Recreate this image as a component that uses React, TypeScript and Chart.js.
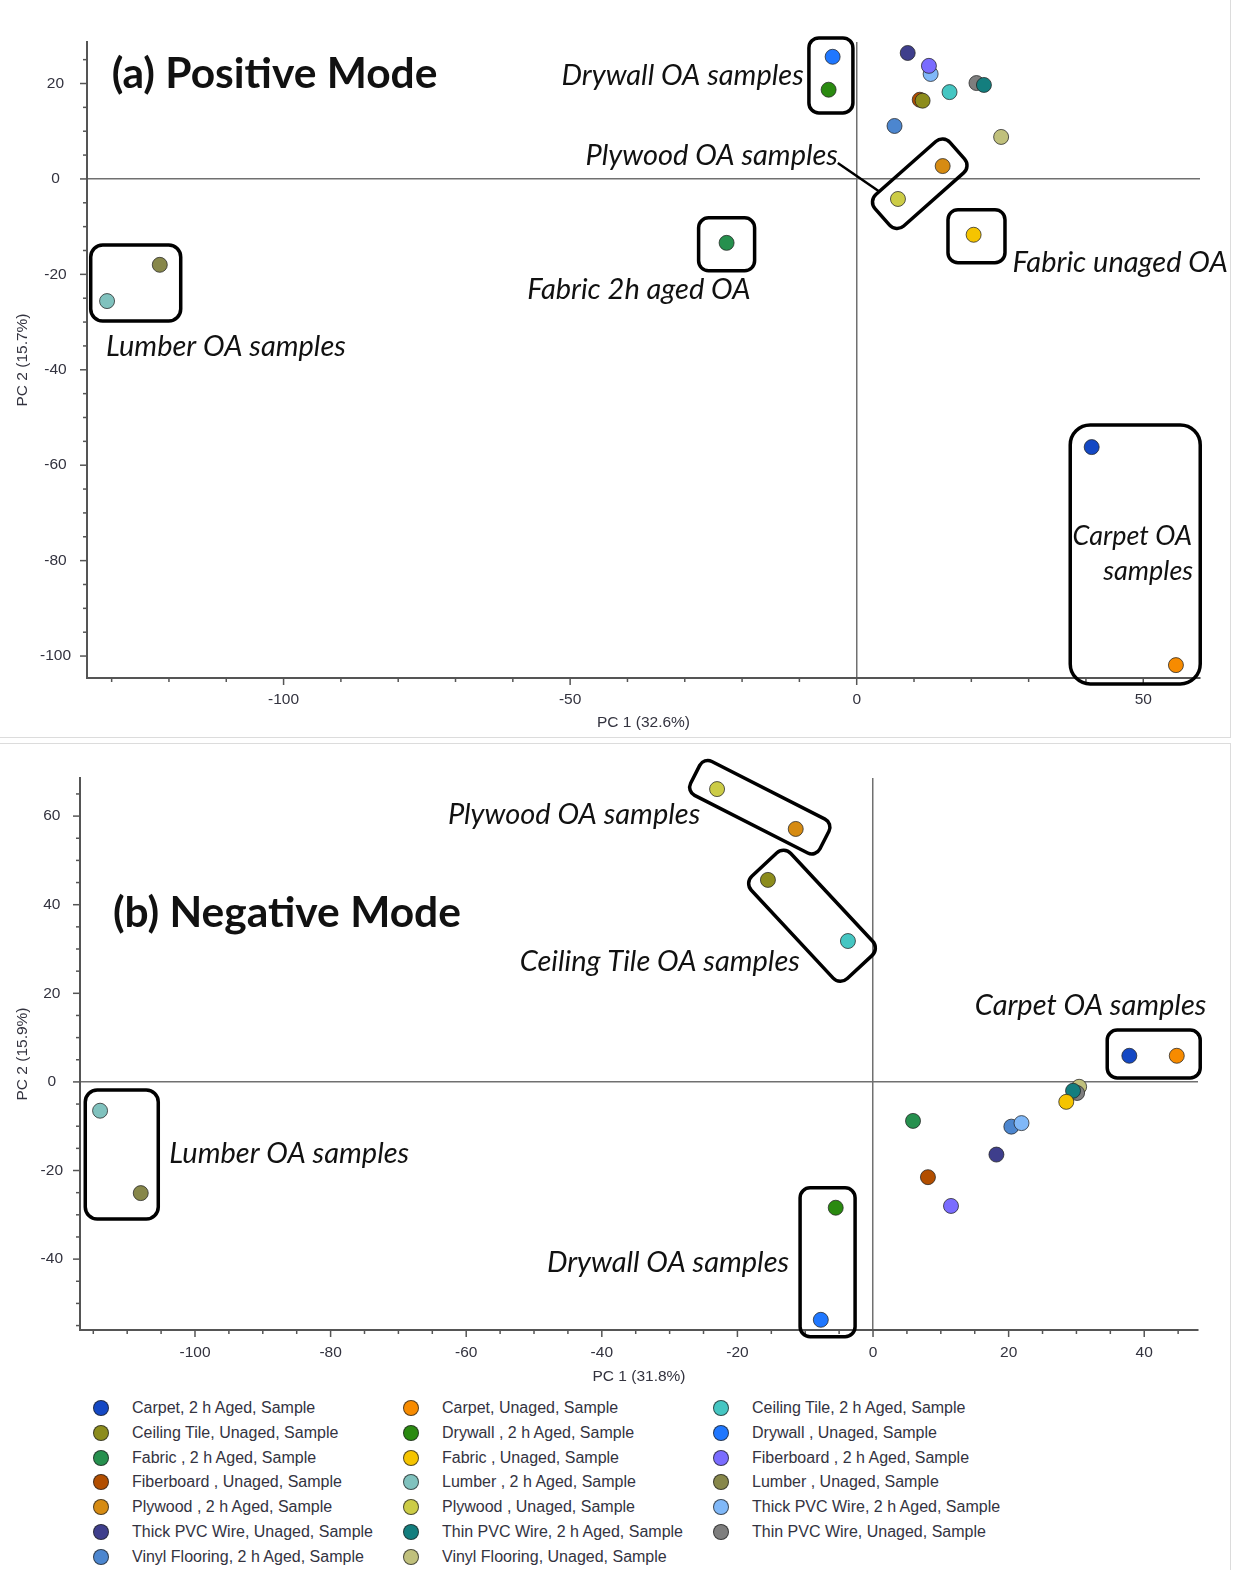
import React, { useEffect, useRef } from 'react';
import { Chart, registerables } from 'chart.js';

Chart.register(...registerables);

// ---------------- DATA ----------------
const sampleNames = [
  'Carpet, 2 h Aged, Sample',
  'Carpet, Unaged, Sample',
  'Ceiling Tile, 2 h Aged, Sample',
  'Ceiling Tile, Unaged, Sample',
  'Drywall , 2 h Aged, Sample',
  'Drywall , Unaged, Sample',
  'Fabric , 2 h Aged, Sample',
  'Fabric , Unaged, Sample',
  'Fiberboard , 2 h Aged, Sample',
  'Fiberboard , Unaged, Sample',
  'Lumber , 2 h Aged, Sample',
  'Lumber , Unaged, Sample',
  'Plywood , 2 h Aged, Sample',
  'Plywood , Unaged, Sample',
  'Thick PVC Wire, 2 h Aged, Sample',
  'Thick PVC Wire, Unaged, Sample',
  'Thin PVC Wire, 2 h Aged, Sample',
  'Thin PVC Wire, Unaged, Sample',
  'Vinyl Flooring, 2 h Aged, Sample',
  'Vinyl Flooring, Unaged, Sample',
];

const sampleColors = [
  '#1448c4', '#f78b00', '#45c6c2', '#8c8c1c', '#2a8a10',
  '#1f77ff', '#26904e', '#f5c400', '#7a6cff', '#b24e00',
  '#80c2be', '#87874a', '#d68b12', '#cccc46', '#80b8f8',
  '#3e3e8c', '#137e7e', '#7e7e7e', '#4c86cf', '#c0c07c',
];

// (a) Positive mode scores
const posPC1 = [41.0, 55.7, 16.2, 11.5, -4.9, -4.2, -22.7, 20.4, 12.6, 11.0, -130.8, -121.6, 15.0, 7.2, 12.9, 8.9, 22.2, 20.9, 6.6, 25.2];
const posPC2 = [-56.2, -101.9, 18.2, 16.4, 18.7, 25.6, -13.4, -11.7, 23.7, 16.6, -25.6, -18.0, 2.7, -4.2, 22.0, 26.4, 19.7, 20.1, 11.1, 8.8];

// (b) Negative mode scores
const negPC1 = [37.8, 44.8, -3.7, -15.5, -5.5, -7.7, 5.9, 28.5, 11.5, 8.1, -114.0, -108.0, -11.4, -23.0, 21.9, 18.2, 29.5, 30.1, 20.4, 30.4];
const negPC2 = [5.9, 5.9, 31.8, 45.6, -28.4, -53.7, -8.8, -4.5, -28.0, -21.5, -6.5, -25.1, 57.1, 66.1, -9.3, -16.4, -2.0, -2.5, -10.1, -1.1];

const posAxisTitles = ['PC 1 (32.6%)', 'PC 2 (15.7%)'];
const negAxisTitles = ['PC 1 (31.8%)', 'PC 2 (15.9%)'];

// ---------------- ANNOTATIONS ----------------
type Box = { cx: number; cy: number; w: number; h: number; angle: number; r: number };
type Label = { x: number; y: number; text: string; align: CanvasTextAlign; kind: 'title' | 'note' | 'small' };
type Seg = { x1: number; y1: number; x2: number; y2: number };

const posBoxes: Box[] = [
  { cx: -125.8, cy: -21.8, w: 90, h: 76, angle: 0, r: 12 },
  { cx: -4.5, cy: 21.7, w: 44, h: 75, angle: 0, r: 10 },
  { cx: -22.7, cy: -13.7, w: 56, h: 53, angle: 0, r: 10 },
  { cx: 11.0, cy: -1.0, w: 100, h: 42, angle: -41.5, r: 10 },
  { cx: 20.9, cy: -12.0, w: 57, h: 53, angle: 0, r: 10 },
  { cx: 48.6, cy: -78.7, w: 130, h: 259, angle: 0, r: 20 },
];
const posLabels: Label[] = [
  { x: -130.0, y: 22.0, text: '(a) Positive Mode', align: 'left', kind: 'title' },
  { x: -51.5, y: 21.6, text: 'Drywall OA samples', align: 'left', kind: 'note' },
  { x: -47.3, y: 4.8, text: 'Plywood OA samples', align: 'left', kind: 'note' },
  { x: -57.5, y: -23.1, text: 'Fabric 2h aged OA', align: 'left', kind: 'note' },
  { x: 27.2, y: -17.6, text: 'Fabric unaged OA', align: 'left', kind: 'note' },
  { x: -131.0, y: -35.2, text: 'Lumber OA samples', align: 'left', kind: 'note' },
  { x: 58.5, y: -74.8, text: 'Carpet OA', align: 'right', kind: 'small' },
  { x: 58.7, y: -82.2, text: 'samples', align: 'right', kind: 'small' },
];
const posSegs: Seg[] = [{ x1: -3.3, y1: 3.35, x2: 4.0, y2: -2.7 }];

const negBoxes: Box[] = [
  { cx: -16.7, cy: 62.0, w: 145, h: 38, angle: 27, r: 9 },
  { cx: -9.0, cy: 37.5, w: 140, h: 54, angle: 47, r: 10 },
  { cx: 41.4, cy: 6.3, w: 93, h: 48, angle: 0, r: 10 },
  { cx: -110.8, cy: -16.4, w: 73, h: 129, angle: 0, r: 12 },
  { cx: -6.7, cy: -40.7, w: 55, h: 149, angle: 0, r: 10 },
];
const negLabels: Label[] = [
  { x: -112.1, y: 38.1, text: '(b) Negative Mode', align: 'left', kind: 'title' },
  { x: -62.7, y: 60.3, text: 'Plywood OA samples', align: 'left', kind: 'note' },
  { x: -52.1, y: 27.1, text: 'Ceiling Tile OA samples', align: 'left', kind: 'note' },
  { x: 15.0, y: 17.2, text: 'Carpet OA samples', align: 'left', kind: 'note' },
  { x: -103.8, y: -16.3, text: 'Lumber OA samples', align: 'left', kind: 'note' },
  { x: -48.1, y: -40.9, text: 'Drywall OA samples', align: 'left', kind: 'note' },
];

const TICK_COLOR = '#33333f';
const AXIS_FONT = '"Liberation Sans", Arial, sans-serif';
const NOTE_FONT = 'Lato, "Open Sans", sans-serif';
const LABEL_FONTS: Record<string, string> = {
  title: `bold 42.5px ${NOTE_FONT}`,
  note: `italic 29px ${NOTE_FONT}`,
  small: `italic 27px ${NOTE_FONT}`,
};

type PanelProps = {
  top: number;
  width: number;
  height: number;
  xs: number[];
  ys: number[];
  xMin: number; xMax: number; yMin: number; yMax: number;
  xStep: number; xMajor: number; yStep: number; yMajor: number;
  titles: string[];
  padTop: number; padRight: number;
  yAxisWidth: number; xAxisHeight: number;
  xTickPad: number; yTickPad: number;
  xTitlePad: number; yTitlePad: number;
  boxes: Box[]; labels: Label[]; segs: Seg[];
};

function PcaChart(p: PanelProps) {
  const ref = useRef<HTMLCanvasElement | null>(null);
  useEffect(() => {
    if (!ref.current) return;
    const decor = {
      id: 'pcaDecor',
      afterDraw(chart: any) {
        const ctx = chart.ctx as CanvasRenderingContext2D;
        const sx = chart.scales.x;
        const sy = chart.scales.y;
        const ca = chart.chartArea;
        ctx.save();
        // tick marks
        ctx.strokeStyle = '#555';
        ctx.lineWidth = 1.5;
        for (const t of sx.ticks) {
          const px = sx.getPixelForValue(t.value);
          const len = Math.abs(t.value % p.xMajor) < 1e-6 ? 7 : 4;
          ctx.beginPath();
          ctx.moveTo(px, ca.bottom);
          ctx.lineTo(px, ca.bottom + len);
          ctx.stroke();
        }
        for (const t of sy.ticks) {
          const py = sy.getPixelForValue(t.value);
          const len = Math.abs(t.value % p.yMajor) < 1e-6 ? 7 : 4;
          ctx.beginPath();
          ctx.moveTo(ca.left, py);
          ctx.lineTo(ca.left - len, py);
          ctx.stroke();
        }
        // boxes
        ctx.strokeStyle = '#000';
        ctx.lineWidth = 3.5;
        for (const b of p.boxes) {
          const cx = sx.getPixelForValue(b.cx);
          const cy = sy.getPixelForValue(b.cy);
          ctx.save();
          ctx.translate(cx, cy);
          ctx.rotate((b.angle * Math.PI) / 180);
          ctx.beginPath();
          (ctx as any).roundRect(-b.w / 2, -b.h / 2, b.w, b.h, b.r);
          ctx.stroke();
          ctx.restore();
        }
        // connector lines
        ctx.lineWidth = 2.5;
        for (const s of p.segs) {
          ctx.beginPath();
          ctx.moveTo(sx.getPixelForValue(s.x1), sy.getPixelForValue(s.y1));
          ctx.lineTo(sx.getPixelForValue(s.x2), sy.getPixelForValue(s.y2));
          ctx.stroke();
        }
        // text
        ctx.fillStyle = '#111';
        ctx.textBaseline = 'middle';
        for (const l of p.labels) {
          ctx.font = LABEL_FONTS[l.kind];
          ctx.textAlign = l.align;
          ctx.fillText(l.text, sx.getPixelForValue(l.x), sy.getPixelForValue(l.y));
        }
        ctx.restore();
      },
    };

    const datasets = sampleNames.map((name, i) => ({
      label: name,
      data: [{ x: p.xs[i], y: p.ys[i] }],
      backgroundColor: sampleColors[i],
      borderColor: 'rgba(35,35,35,0.75)',
      borderWidth: 1,
      pointRadius: 7.5,
      pointHoverRadius: 7.5,
      showLine: false,
      clip: false as any,
    }));

    const gridColor = (c: any) => (c.tick && c.tick.value === 0 ? '#707070' : 'rgba(0,0,0,0)');

    const chart = new Chart(ref.current, {
      type: 'scatter',
      data: { datasets },
      options: {
        animation: false,
        responsive: false,
        events: [],
        layout: { autoPadding: false, padding: { top: p.padTop, right: p.padRight, left: 0, bottom: 0 } },
        plugins: { legend: { display: false }, tooltip: { enabled: false } },
        scales: {
          x: {
            type: 'linear',
            min: p.xMin,
            max: p.xMax,
            afterFit: (s: any) => { s.height = p.xAxisHeight; },
            ticks: {
              stepSize: p.xStep,
              includeBounds: false,
              autoSkip: false,
              maxRotation: 0,
              padding: p.xTickPad,
              color: TICK_COLOR,
              font: { family: AXIS_FONT, size: 15.5 },
              callback: (v: any) => (Math.abs(Number(v) % p.xMajor) < 1e-6 ? String(v) : ''),
            },
            grid: { drawOnChartArea: true, color: gridColor, lineWidth: 1.5, tickLength: 6, tickColor: 'rgba(0,0,0,0)' },
            border: { display: true, color: '#555', width: 2 },
            title: { display: true, text: p.titles[0], color: TICK_COLOR, font: { family: AXIS_FONT, size: 15.5 }, padding: { top: 0, bottom: p.xTitlePad } },
          },
          y: {
            type: 'linear',
            min: p.yMin,
            max: p.yMax,
            afterFit: (s: any) => { s.width = p.yAxisWidth; },
            ticks: {
              stepSize: p.yStep,
              includeBounds: false,
              autoSkip: false,
              crossAlign: 'center',
              padding: p.yTickPad,
              color: TICK_COLOR,
              font: { family: AXIS_FONT, size: 15.5 },
              callback: (v: any) => (Math.abs(Number(v) % p.yMajor) < 1e-6 ? String(v) : ''),
            },
            grid: { drawOnChartArea: true, color: gridColor, lineWidth: 1.5, tickLength: 6, tickColor: 'rgba(0,0,0,0)' },
            border: { display: true, color: '#555', width: 2 },
            title: { display: true, text: p.titles[1], color: TICK_COLOR, font: { family: AXIS_FONT, size: 15.5 }, padding: { top: p.yTitlePad, bottom: 0 } },
          },
        },
      } as any,
      plugins: [decor as any],
    });
    return () => chart.destroy();
  }, []);
  return (
    <canvas
      ref={ref}
      width={p.width}
      height={p.height}
      style={{ position: 'absolute', left: 0, top: p.top, width: p.width, height: p.height }}
    />
  );
}

export default function App() {
  return (
    <div style={{ position: 'absolute', left: 0, top: 0, width: 1238, height: 1570, background: '#fff', overflow: 'hidden' }}>
      <div style={{ position: 'absolute', left: 0, top: 0, width: 1231, height: 738, boxSizing: 'border-box', borderRight: '1px solid #dcdcdc', borderBottom: '1px solid #dcdcdc' }} />
      <div style={{ position: 'absolute', left: 0, top: 743, width: 1231, height: 827, boxSizing: 'border-box', borderRight: '1px solid #dcdcdc', borderTop: '1px solid #dcdcdc' }} />
      <PcaChart
        top={0} width={1230} height={737}
        xs={posPC1} ys={posPC2}
        xMin={-134.3} xMax={59.9} yMin={-104.6} yMax={28.7}
        xStep={10} xMajor={50} yStep={5} yMajor={20}
        titles={posAxisTitles}
        padTop={42} padRight={30}
        yAxisWidth={87} xAxisHeight={59}
        xTickPad={6} yTickPad={10}
        xTitlePad={5} yTitlePad={13}
        boxes={posBoxes} labels={posLabels} segs={posSegs}
      />
      <PcaChart
        top={744} width={1230} height={650}
        xs={negPC1} ys={negPC2}
        xMin={-116.96} xMax={47.93} yMin={-56.0} yMax={68.6}
        xStep={5} xMajor={20} yStep={5} yMajor={20}
        titles={negAxisTitles}
        padTop={34} padRight={32}
        yAxisWidth={80} xAxisHeight={64}
        xTickPad={7} yTickPad={11}
        xTitlePad={8} yTitlePad={13}
        boxes={negBoxes} labels={negLabels} segs={[]}
      />
      {sampleNames.map((name, i) => {
        const col = i % 3;
        const row = Math.floor(i / 3);
        const cy = 1408 + row * 24.83;
        return (
          <div key={name} style={{ position: 'absolute', left: 93 + col * 310, top: cy - 12, height: 24, display: 'flex', alignItems: 'center' }}>
            <span style={{ display: 'inline-block', width: 16, height: 16, borderRadius: '50%', boxSizing: 'border-box', background: sampleColors[i], border: '1.5px solid rgba(35,35,35,0.75)' }} />
            <span style={{ marginLeft: 23, font: `16px ${AXIS_FONT}`, color: '#33333f', whiteSpace: 'nowrap' }}>{name}</span>
          </div>
        );
      })}
    </div>
  );
}
